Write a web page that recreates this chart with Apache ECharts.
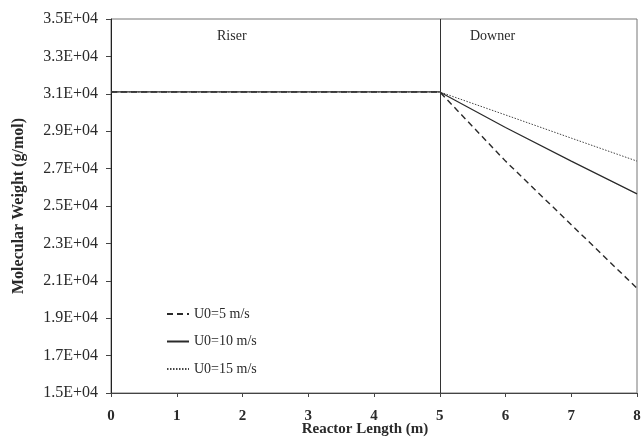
<!DOCTYPE html>
<html lang="en">
  <head>
    <meta charset="utf-8" />
    <title>Molecular Weight vs Reactor Length</title>
    <style>
      * {
        margin: 0;
        padding: 0;
      }

      #chart-container {
        position: relative;
        width: 641px;
        height: 441px;
        overflow: hidden;
        background: #fff;
      }
    </style>
  </head>

  <body>
    <div id="chart-container"></div>
    <script src="https://cdn.jsdelivr.net/npm/echarts@6/dist/echarts.min.js"></script>
    <script>
      var lengths = [0, 1, 2, 3, 4, 5, 6, 7, 8];
      var mwU5 = [31100, 31100, 31100, 31100, 31100, 31100, 27400, 24000, 20600];
      var mwU10 = [31100, 31100, 31100, 31100, 31100, 31100, 29200, 27400, 25650];
      var mwU15 = [31100, 31100, 31100, 31100, 31100, 31100, 29870, 28630, 27400];
      var seriesNames = ["U0=5 m/s", "U0=10 m/s", "U0=15 m/s"];
      var boundary = 5;

      var font = "'Liberation Serif', 'Times New Roman', serif";
      var ink = "#2a2a2a";

      function pairs(xs, ys) {
        return xs.map(function (x, i) {
          return [x, ys[i]];
        });
      }

      var dom = document.getElementById("chart-container");
      var myChart = echarts.init(dom, null, { renderer: "canvas" });

      var option = {
        animation: false,
        backgroundColor: "#fff",
        grid: {
          left: 111,
          right: 4,
          top: 19,
          bottom: 48,
          outerBoundsMode: "none",
          show: true,
          borderColor: "#777",
          borderWidth: 1,
        },
        legend: {
          orient: "vertical",
          left: 166,
          top: 307,
          padding: 0,
          itemWidth: 22,
          itemHeight: 14,
          itemGap: 13.5,
          data: seriesNames,
          itemStyle: { opacity: 0 },
          textStyle: { fontFamily: font, fontSize: 14, color: ink },
        },
        xAxis: {
          type: "value",
          min: 0,
          max: 8,
          interval: 1,
          name: "Reactor Length (m)",
          nameLocation: "middle",
          nameGap: 29,
          nameMoveOverlap: false,
          nameTextStyle: {
            fontFamily: font,
            fontSize: 15,
            fontWeight: "bold",
            color: ink,
            padding: [0, 18, 0, 0],
          },
          axisLine: { lineStyle: { color: "#444", width: 1 } },
          axisTick: { show: true, length: 4, lineStyle: { color: "#444" } },
          axisLabel: { fontFamily: font, fontSize: 15, fontWeight: "bold", color: ink, margin: 16 },
          splitLine: { show: false },
        },
        yAxis: {
          type: "value",
          min: 15000,
          max: 35000,
          interval: 2000,
          name: "Molecular Weight (g/mol)",
          nameLocation: "middle",
          nameGap: 84,
          nameMoveOverlap: false,
          nameTextStyle: { fontFamily: font, fontSize: 16, fontWeight: "bold", color: ink },
          axisLine: { show: true, lineStyle: { color: "#222", width: 1 } },
          axisTick: { show: true, length: 5, lineStyle: { color: "#444" } },
          axisLabel: {
            fontFamily: font,
            fontSize: 16,
            color: ink,
            margin: 13,
            formatter: function (v) {
              return (v / 10000).toFixed(1) + "E+04";
            },
          },
          splitLine: { show: false },
        },
        graphic: [
          {
            type: "text",
            left: 217,
            top: 29,
            style: { text: "Riser", fontFamily: font, fontSize: 14, fill: ink },
          },
          {
            type: "text",
            left: 470,
            top: 29,
            style: { text: "Downer", fontFamily: font, fontSize: 14, fill: ink },
          },
        ],
        series: [
          {
            name: seriesNames[0],
            type: "line",
            symbol: "none",
            data: pairs(lengths, mwU5),
            lineStyle: { color: ink, width: 1.4, type: [6, 4] },
            itemStyle: { color: ink },
            markLine: {
              silent: true,
              symbol: "none",
              label: { show: false },
              lineStyle: { color: "#333", width: 1, type: "solid" },
              data: [{ xAxis: boundary }],
            },
          },
          {
            name: seriesNames[1],
            type: "line",
            symbol: "none",
            data: pairs(lengths, mwU10),
            lineStyle: { color: ink, width: 1.2, type: "solid" },
            itemStyle: { color: ink },
          },
          {
            name: seriesNames[2],
            type: "line",
            symbol: "none",
            data: pairs(lengths, mwU15),
            lineStyle: { color: "#444", width: 1, type: [1.5, 1.5] },
            itemStyle: { color: ink },
          },
        ],
      };

      myChart.setOption(option);
      window.addEventListener("resize", myChart.resize);
    </script>
  </body>
</html>
